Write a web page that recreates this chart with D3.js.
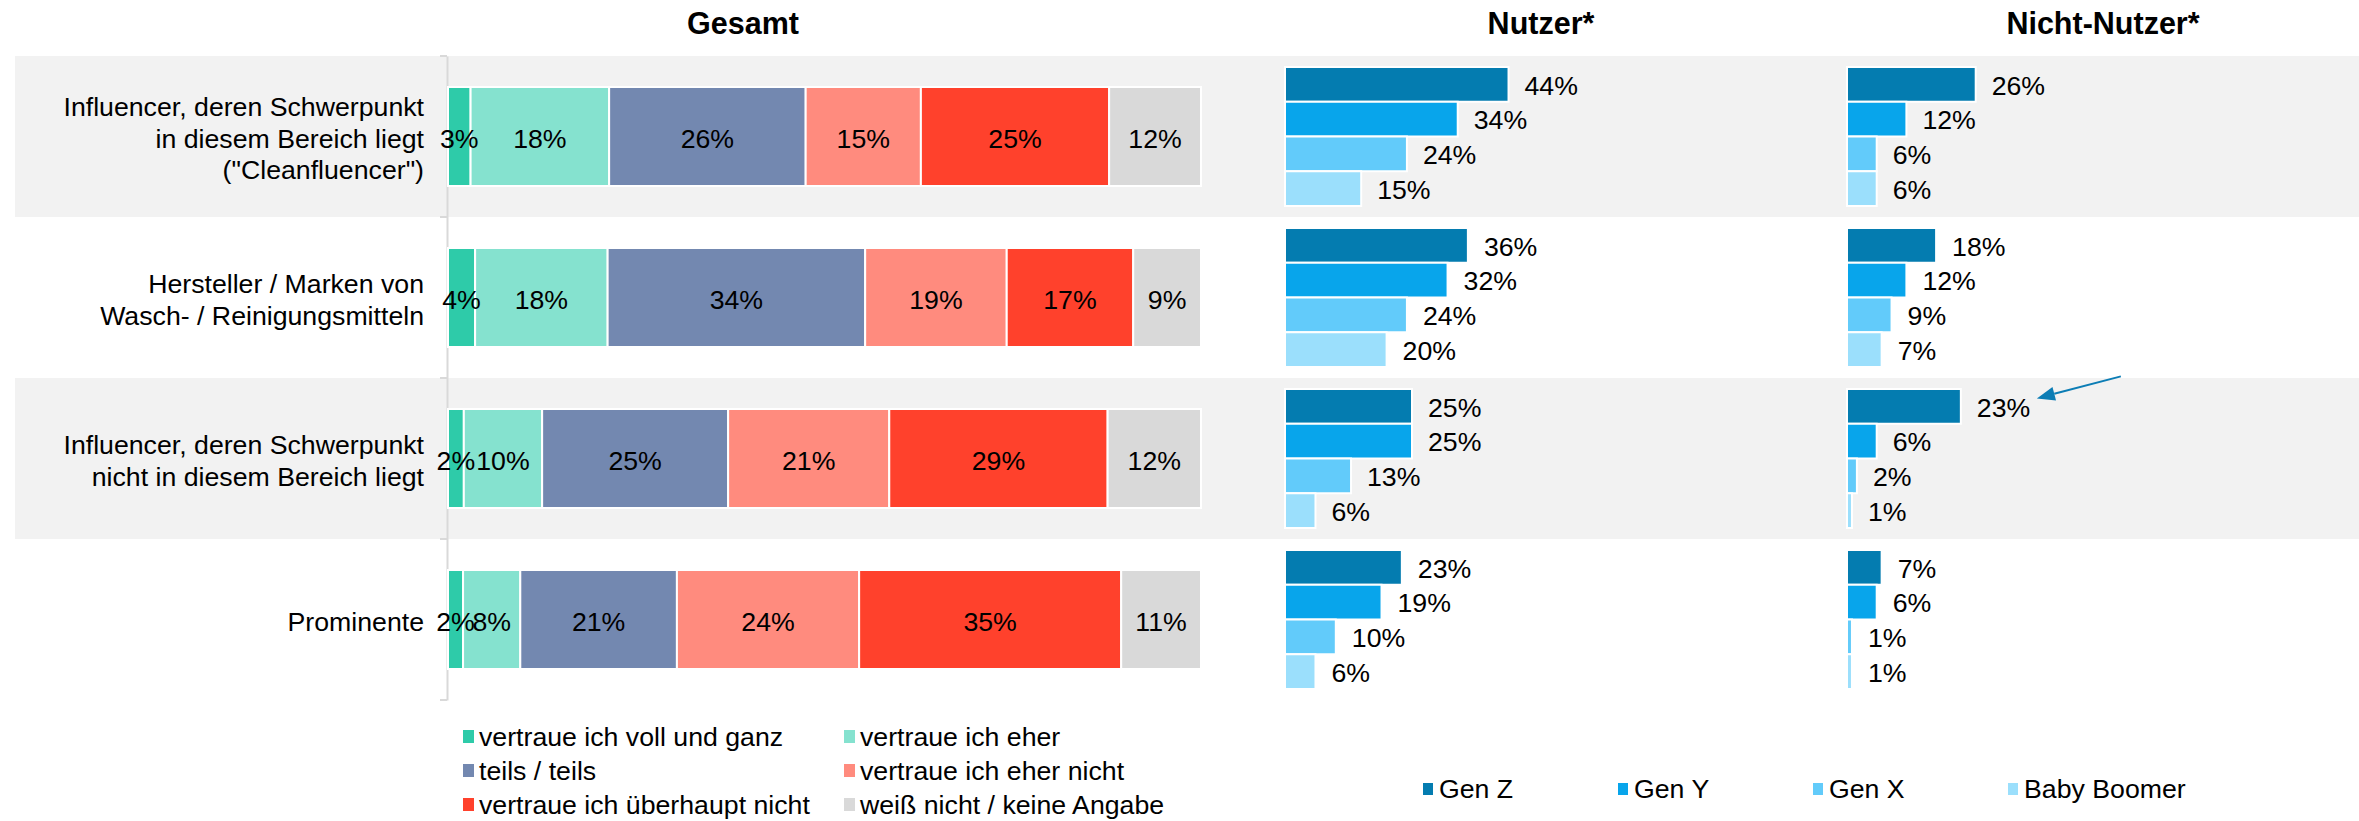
<!DOCTYPE html>
<html>
<head>
<meta charset="utf-8">
<script src="https://cdn.jsdelivr.net/npm/d3@7"></script>
<style>
    body { margin: 0; background: #fff; }
    svg text { font-family: 'Liberation Sans', Arial, sans-serif; fill: #000; }
    .title { font-size: 30.5px; font-weight: bold; }
    .lbl { font-size: 26.7px; }
</style>
</head>
<body>
<div class="chart-main"></div>
<script>

//////////
// DATA //
//////////

var categories = ['cleanfluencer', 'hersteller', 'influencer', 'prominente'];

var categoryLines = [
    ['Influencer, deren Schwerpunkt', 'in diesem Bereich liegt', '("Cleanfluencer")'],
    ['Hersteller / Marken von', 'Wasch- / Reinigungsmitteln'],
    ['Influencer, deren Schwerpunkt', 'nicht in diesem Bereich liegt'],
    ['Prominente']
];

var answers = ['vertraue ich voll und ganz', 'vertraue ich eher', 'teils / teils',
    'vertraue ich eher nicht', 'vertraue ich überhaupt nicht', 'weiß nicht / keine Angabe'];

var answerColors = ['#2ecba9', '#85e2cf', '#7388b0', '#ff8b7e', '#ff412c', '#d9d9d9'];

// one row per category, shares in percent
var gesamt = [
    [3.0, 18.4, 26.1, 15.3, 25.0, 12.2],
    [3.6, 17.6, 34.2, 18.8, 16.8, 9.0],
    [2.1, 10.4, 24.7, 21.4, 29.0, 12.4],
    [2.0, 7.6, 20.8, 24.2, 34.8, 10.6]
];

var generations = ['Gen Z', 'Gen Y', 'Gen X', 'Baby Boomer'];
var genColors = ['#047cb0', '#08a5eb', '#62cbfa', '#9bdffc'];

var nutzer = [
    [44, 34, 24, 15],
    [36, 32, 24, 20],
    [25, 25, 13, 6],
    [23, 19, 10, 6]
];

var nichtNutzer = [
    [26, 12, 6, 6],
    [18, 12, 9, 7],
    [23, 6, 2, 1],
    [7, 6, 1, 1]
];

var panelTitles = ['Gesamt', 'Nutzer*', 'Nicht-Nutzer*'];

//////////////////
// CREATING SVG //
//////////////////

var w = 2359,
    h = 821;

var svg = d3.select('.chart-main')
    .append('svg')
    .attr('width', w)
    .attr('height', h);

////////////
// SCALES //
////////////

var yScale = d3.scaleBand()
    .domain(categories)
    .range([56, 700]);

var xGesamt = d3.scaleLinear().domain([0, 100]).range([448, 1201]);
var xNutzer = d3.scaleLinear().domain([0, 100]).range([1285, 1793]);
var xNicht = d3.scaleLinear().domain([0, 100]).range([1847, 2342]);

var genScale = d3.scaleBand()
    .domain(generations)
    .range([11, yScale.bandwidth() - 11]);

var fmt = function(v) { return Math.round(v) + '%'; };

//////////////////
// GREY STRIPES //
//////////////////

svg.selectAll('.stripe')
    .data(categories.filter(function(d, i) { return i % 2 === 0; }))
    .enter()
    .append('rect')
    .attr('class', 'stripe')
    .attr('x', 15)
    .attr('y', function(d) { return yScale(d); })
    .attr('width', w - 15)
    .attr('height', yScale.bandwidth())
    .attr('fill', '#f2f2f2');

////////////
// TITLES //
////////////

svg.selectAll('.title')
    .data(panelTitles)
    .enter()
    .append('text')
    .attr('class', 'title')
    .attr('x', function(d, i) { return [743, 1541, 2103][i]; })
    .attr('y', 34)
    .attr('text-anchor', 'middle')
    .text(function(d) { return d; });

//////////
// AXIS //
//////////

var yAxis = d3.axisLeft(yScale)
    .tickValues([])
    .tickSizeOuter(0);

var axisG = svg.append('g')
    .attr('transform', 'translate(447,0)')
    .call(yAxis);

axisG.select('.domain')
    .attr('stroke', '#d9d9d9')
    .attr('stroke-width', 2);

// boundary ticks between categories
axisG.selectAll('.bound')
    .data(d3.range(categories.length + 1))
    .enter()
    .append('line')
    .attr('x1', -7)
    .attr('x2', 0)
    .attr('y1', function(i) { return yScale.range()[0] + i * yScale.bandwidth(); })
    .attr('y2', function(i) { return yScale.range()[0] + i * yScale.bandwidth(); })
    .attr('stroke', '#d9d9d9')
    .attr('stroke-width', 2);

////////////////////
// ROW LABELS     //
////////////////////

var rowLabel = svg.selectAll('.rowlabel')
    .data(categories)
    .enter()
    .append('text')
    .attr('class', 'lbl rowlabel')
    .attr('text-anchor', 'end');

rowLabel.each(function(d, i) {
    var lines = categoryLines[i],
        cy = yScale(d) + yScale.bandwidth() / 2 + 2;
    d3.select(this).selectAll('tspan')
        .data(lines)
        .enter()
        .append('tspan')
        .attr('x', 424)
        .attr('y', function(l, j) { return cy + (j - (lines.length - 1) / 2) * 31.5; })
        .attr('dy', '0.35em')
        .text(function(l) { return l; });
});

////////////////////
// GESAMT STACKS  //
////////////////////

var barH = 99;

gesamt.forEach(function(row, i) {
    var cy = yScale(categories[i]) + yScale.bandwidth() / 2;
    var stack = [];
    var acc = 0;
    row.forEach(function(v, j) {
        stack.push({ x0: acc, x1: acc + v, v: v, j: j });
        acc += v;
    });

    var g = svg.append('g').attr('class', 'gesamt-row');

    g.selectAll('rect')
        .data(stack)
        .enter()
        .append('rect')
        .attr('x', function(d) { return xGesamt(d.x0); })
        .attr('y', cy - barH / 2)
        .attr('width', function(d) { return xGesamt(d.x1) - xGesamt(d.x0); })
        .attr('height', barH)
        .attr('fill', function(d) { return answerColors[d.j]; })
        .attr('stroke', '#fff')
        .attr('stroke-width', 2);

    g.selectAll('text')
        .data(stack)
        .enter()
        .append('text')
        .attr('class', 'lbl')
        .attr('x', function(d) { return (xGesamt(d.x0) + xGesamt(d.x1)) / 2; })
        .attr('y', cy + 2)
        .attr('dy', '0.35em')
        .attr('text-anchor', 'middle')
        .text(function(d) { return fmt(d.v); });
});

/////////////////////////
// GENERATION BAR SETS //
/////////////////////////

function drawGenPanel(data, xScale, cls) {
    data.forEach(function(row, i) {
        var top = yScale(categories[i]);
        var g = svg.append('g').attr('class', cls);

        g.selectAll('rect')
            .data(row)
            .enter()
            .append('rect')
            .attr('x', xScale(0))
            .attr('y', function(d, j) { return top + genScale(generations[j]); })
            .attr('width', function(d) { return xScale(d) - xScale(0); })
            .attr('height', genScale.bandwidth())
            .attr('fill', function(d, j) { return genColors[j]; })
            .attr('stroke', '#fff')
            .attr('stroke-width', 2);

        g.selectAll('text')
            .data(row)
            .enter()
            .append('text')
            .attr('class', 'lbl')
            .attr('x', function(d) { return xScale(d) + 16; })
            .attr('y', function(d, j) { return top + genScale(generations[j]) + genScale.bandwidth() / 2 + 1; })
            .attr('dy', '0.35em')
            .text(function(d) { return d + '%'; });
    });
}

drawGenPanel(nutzer, xNutzer, 'nutzer');
drawGenPanel(nichtNutzer, xNicht, 'nicht');

///////////
// ARROW //
///////////

// points at the Gen Z label of "nicht in diesem Bereich" (Nicht-Nutzer)
var tipX = xNicht(nichtNutzer[2][0]) + 16 + 60,
    tipY = yScale(categories[2]) + genScale(generations[0]) + genScale.bandwidth() / 2 - 8;

var ang = Math.atan2(-22, 84);
var headLen = 18, headW = 7;
var bx = tipX + headLen * Math.cos(ang),
    by = tipY + headLen * Math.sin(ang);

svg.append('line')
    .attr('x1', bx)
    .attr('y1', by)
    .attr('x2', tipX + 84)
    .attr('y2', tipY - 22)
    .attr('stroke', '#0c7db5')
    .attr('stroke-width', 2);

svg.append('path')
    .attr('d', d3.line()([
        [tipX, tipY],
        [bx - headW * Math.sin(ang), by + headW * Math.cos(ang)],
        [bx + headW * Math.sin(ang), by - headW * Math.cos(ang)]
    ]) + 'Z')
    .attr('fill', '#0c7db5');

/////////////
// LEGENDS //
/////////////

var leg = svg.selectAll('.leg')
    .data(answers)
    .enter()
    .append('g')
    .attr('class', 'leg')
    .attr('transform', function(d, i) {
        return 'translate(' + [463, 844][i % 2] + ',' + (737 + Math.floor(i / 2) * 34) + ')';
    });

leg.append('rect')
    .attr('x', 0)
    .attr('y', -7)
    .attr('width', 11)
    .attr('height', 13)
    .attr('fill', function(d, i) { return answerColors[i]; });

leg.append('text')
    .attr('class', 'lbl')
    .attr('x', 16)
    .attr('y', 0)
    .attr('dy', '0.35em')
    .text(function(d) { return d; });

var genLeg = svg.selectAll('.genleg')
    .data(generations)
    .enter()
    .append('g')
    .attr('class', 'genleg')
    .attr('transform', function(d, i) { return 'translate(' + (1423 + i * 195) + ',789)'; });

genLeg.append('rect')
    .attr('x', 0)
    .attr('y', -6)
    .attr('width', 10)
    .attr('height', 12)
    .attr('fill', function(d, i) { return genColors[i]; });

genLeg.append('text')
    .attr('class', 'lbl')
    .attr('x', 16)
    .attr('y', 0)
    .attr('dy', '0.35em')
    .text(function(d) { return d; });

</script>
</body>
</html>
